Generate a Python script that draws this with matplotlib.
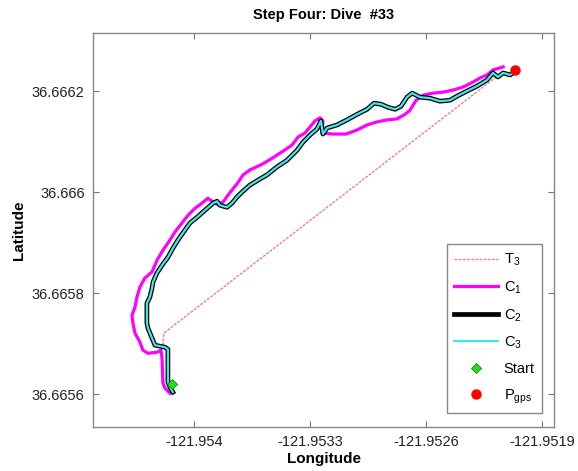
import numpy as np
import matplotlib.pyplot as plt

plt.rcParams['font.family'] = ['Liberation Sans', 'DejaVu Sans']
plt.rcParams['mathtext.fontset'] = 'custom'
plt.rcParams['mathtext.rm'] = 'Liberation Sans'

# ---------------- data ----------------
t3_lon = [-121.954187, -121.954181, -121.952153]
t3_lat = [36.665697, 36.665721, 36.666234]

c1_lon = [-121.954145, -121.954175, -121.954187, -121.954193, -121.954199, -121.954223,
          -121.954278, -121.954308, -121.954326, -121.954356, -121.954368, -121.954374,
          -121.954356, -121.954344, -121.954326, -121.954296, -121.954253, -121.954223,
          -121.954187, -121.954145, -121.954115, -121.954072, -121.954036, -121.953994,
          -121.953952, -121.953916, -121.953891, -121.953861, -121.953825, -121.953795,
          -121.953771, -121.953741, -121.953704, -121.953662, -121.953590, -121.953529,
          -121.953463, -121.953409, -121.953372, -121.953330, -121.953300, -121.953270,
          -121.953240, -121.953222, -121.953228, -121.953161, -121.953083, -121.953016,
          -121.952956, -121.952896, -121.952835, -121.952775, -121.952727, -121.952697,
          -121.952660, -121.952618, -121.952558, -121.952497, -121.952437, -121.952377,
          -121.952316, -121.952274, -121.952232, -121.952196, -121.952153, -121.952135]
c1_lat = [36.665602, 36.665612, 36.665622, 36.665673, 36.665687, 36.665683,
          36.665681, 36.665687, 36.665703, 36.665721, 36.665741, 36.665756,
          36.665772, 36.665792, 36.665812, 36.665830, 36.665842, 36.665865,
          36.665885, 36.665905, 36.665921, 36.665939, 36.665954, 36.665968,
          36.665978, 36.665988, 36.665982, 36.665976, 36.665980, 36.665994,
          36.666004, 36.666016, 36.666034, 36.666044, 36.666055, 36.666067,
          36.666081, 36.666093, 36.666109, 36.666117, 36.666129, 36.666141,
          36.666147, 36.666141, 36.666117, 36.666115, 36.666115, 36.666123,
          36.666133, 36.666139, 36.666143, 36.666145, 36.666154, 36.666162,
          36.666182, 36.666192, 36.666196, 36.666198, 36.666202, 36.666208,
          36.666218, 36.666226, 36.666232, 36.666242, 36.666246, 36.666248]

c2_lon = [-121.954127, -121.954145, -121.954157, -121.954157, -121.954175, -121.954235,
          -121.954253, -121.954278, -121.954284, -121.954284, -121.954266, -121.954253,
          -121.954247, -121.954223, -121.954193, -121.954157, -121.954127, -121.954097,
          -121.954054, -121.954024, -121.953982, -121.953934, -121.953885, -121.953861,
          -121.953843, -121.953801, -121.953771, -121.953741, -121.953704, -121.953662,
          -121.953602, -121.953560, -121.953499, -121.953439, -121.953378, -121.953342,
          -121.953300, -121.953258, -121.953234, -121.953222, -121.953197, -121.953137,
          -121.953077, -121.953016, -121.952956, -121.952914, -121.952872, -121.952829,
          -121.952787, -121.952751, -121.952715, -121.952684, -121.952636, -121.952576,
          -121.952516, -121.952455, -121.952413, -121.952353, -121.952292, -121.952232,
          -121.952196, -121.952166, -121.952135, -121.952093, -121.952075]
c2_lat = [36.665604, 36.665614, 36.665624, 36.665689, 36.665693, 36.665697,
          36.665711, 36.665731, 36.665741, 36.665780, 36.665792, 36.665810,
          36.665822, 36.665840, 36.665855, 36.665871, 36.665889, 36.665905,
          36.665925, 36.665939, 36.665950, 36.665964, 36.665978, 36.665982,
          36.665974, 36.665970, 36.665978, 36.665990, 36.666002, 36.666014,
          36.666026, 36.666034, 36.666050, 36.666063, 36.666083, 36.666099,
          36.666113, 36.666125, 36.666141, 36.666115, 36.666127, 36.666133,
          36.666143, 36.666154, 36.666164, 36.666176, 36.666174, 36.666168,
          36.666164, 36.666170, 36.666188, 36.666196, 36.666188, 36.666186,
          36.666180, 36.666182, 36.666190, 36.666200, 36.666210, 36.666222,
          36.666236, 36.666228, 36.666236, 36.666232, 36.666236]

# C3 overlays C2
c3_lon = list(c2_lon)
c3_lat = list(c2_lat)

start_lon, start_lat = -121.954133, 36.665620
gps_lon, gps_lat = -121.952063, 36.666242

x_ticks = [-121.954, -121.9533, -121.9526, -121.9519]
x_ticklabels = ['-121.954', '-121.9533', '-121.9526', '-121.9519']
y_ticks = [36.6656, 36.6658, 36.666, 36.6662]
y_ticklabels = ['36.6656', '36.6658', '36.666', '36.6662']

# ---------------- plot ----------------
fig = plt.figure(figsize=(5.78, 4.71), dpi=100)
ax = fig.add_axes([0.1609, 0.0934, 0.7976, 0.8365])

ax.plot(t3_lon, t3_lat, color='#f08080', lw=1.0, ls=(0, (2, 1)), label=r'T$_3$')
ax.plot(c1_lon, c1_lat, color='#ff00ff', lw=2.3, label=r'C$_1$')
ax.plot(c2_lon, c2_lat, color='black', lw=3.4, label=r'C$_2$')
ax.plot(c3_lon, c3_lat, color='#40e8e8', lw=1.6, label=r'C$_3$')
ax.plot(start_lon, start_lat, 'D', color='#22dd22', mec='#118811', mew=0.6, ms=5, ls='none', label='Start')
ax.plot(gps_lon, gps_lat, 'o', color='red', ms=6.5, ls='none', label=r'P$_{\mathregular{gps}}$')

ax.set_xlim(-121.954609, -121.951828)
ax.set_ylim(36.665535, 36.666315)
ax.set_xticks(x_ticks)
ax.set_xticklabels(x_ticklabels)
ax.set_yticks(y_ticks)
ax.set_yticklabels(y_ticklabels)
ax.tick_params(direction='in', top=True, right=True, colors='#777777', labelcolor='#222222',
               labelsize=10.5, length=4, pad=6)
for sp in ax.spines.values():
    sp.set_color('#888888')
    sp.set_linewidth(1.0)

ax.set_title('Step Four: Dive  #33', fontsize=10.5, fontweight='bold', pad=10)
ax.set_xlabel('Longitude', fontsize=11, fontweight='bold', labelpad=2)
ax.set_ylabel('Latitude', fontsize=11, fontweight='bold', labelpad=4)

leg = ax.legend(loc='lower right', bbox_to_anchor=(0.974, 0.0355), borderaxespad=0, fontsize=10.5,
                handlelength=3.0, labelspacing=0.75, borderpad=0.5, handletextpad=0.4,
                fancybox=False, framealpha=1, edgecolor='#888888')
leg.get_frame().set_linewidth(1.0)

fig.savefig('out.png', dpi=100)
